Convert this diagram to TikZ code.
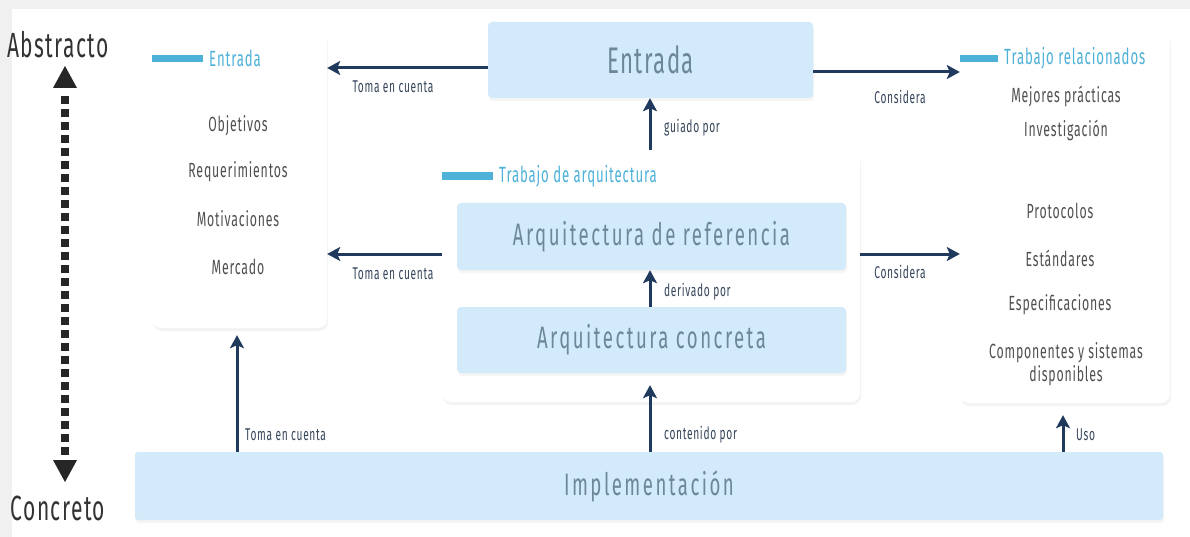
\documentclass[tikz,border=0pt]{standalone}
\usepackage{fontspec}
\setmainfont{Fira Sans}[FakeStretch=0.6,LetterSpace=4]
\newfontfamily\bigfont{Fira Sans}[FakeStretch=0.6,LetterSpace=8]
\usetikzlibrary{shadows,arrows.meta}
\definecolor{bg}{HTML}{F0F0F0}
\definecolor{boxfill}{HTML}{D2EAF9}
\definecolor{boxtext}{HTML}{6D8799}
\definecolor{navy}{HTML}{1F3A5C}
\definecolor{hdr}{HTML}{4DB1D8}
\definecolor{item}{HTML}{505050}
\definecolor{lbl}{HTML}{34455A}
\tikzset{
  panel/.style={draw=none,fill=white,rounded corners=9pt,
    drop shadow={opacity=0.09,shadow xshift=1pt,shadow yshift=-3pt}},
  bluebox/.style={draw=none,fill=boxfill,rounded corners=4pt,text=boxtext,
    drop shadow={opacity=0.08,shadow xshift=1pt,shadow yshift=-3pt}},
  bar/.style={fill=hdr,draw=none},
  hdrtext/.style={text=hdr,font=\fontsize{22}{24}\selectfont,anchor=west,inner sep=0},
  itemtext/.style={text=item,font=\fontsize{20.5}{23}\selectfont,align=center,inner sep=0},
  lbltext/.style={text=lbl,font=\fontsize{17}{19}\selectfont,inner sep=0},
  conn/.style={draw=navy,line width=3pt,-{Stealth[length=13pt,width=14pt,inset=3pt]}},
  sidetext/.style={text=black!80,font=\fontsize{35}{37}\selectfont,inner sep=0},
}
\begin{document}
\begin{tikzpicture}[x=1pt,y=-1pt]
\useasboundingbox (0,0) rectangle (1190,537);
\fill[bg] (0,0) rectangle (1190,537);
\fill[white] (12,9) rectangle (1190,537);

% side scale
\node[sidetext] (abs) at (58,45) {Abstracto};
\node[sidetext] (con) at (58,508) {Concreto};
\fill[black!85] (53,88) -- (77,88) -- (65,66) -- cycle;
\fill[black!85] (53,460) -- (77,460) -- (65,482) -- cycle;
\foreach \yy in {96,109,...,452} \fill[black!85] (61,\yy) rectangle (69,\yy+8);

% left panel
\node[panel,minimum width=175pt,minimum height=296pt] (left) at (239.5,180) {};
\fill[bar] (152,55) rectangle (203,62);
\node[hdrtext] (lefth) at (209,58) {Entrada};
\node[itemtext] (obj) at (238,126) {Objetivos};
\node[itemtext] (req) at (238,172) {Requerimientos};
\node[itemtext] (mot) at (238,219) {Motivaciones};
\node[itemtext] (mer) at (238,267) {Mercado};

% right panel
\node[panel,minimum width=210pt,minimum height=371pt] (right) at (1065,217.5) {};
\fill[bar] (960,55) rectangle (998,62);
\node[hdrtext] (righth) at (1004,58) {Trabajo relacionados};
\node[itemtext] (mej) at (1066,96) {Mejores prácticas};
\node[itemtext] (inv) at (1066,130) {Investigación};
\node[itemtext] (pro) at (1060,211) {Protocolos};
\node[itemtext] (est) at (1060,258) {Estándares};
\node[itemtext] (esp) at (1060,305) {Especificaciones};
\node[itemtext] (comp) at (1066,364) {Componentes y sistemas\\disponibles};

% top entrada box
\node[bluebox,minimum width=325pt,minimum height=76pt,font=\fontsize{37}{39}\selectfont] (entrada) at (650.5,60) {Entrada};

% middle panel
\node[panel,minimum width=418pt,minimum height=252pt] (mid) at (651,276) {};
\fill[bar] (442,172) rectangle (493,180);
\node[hdrtext] (midh) at (499,176) {Trabajo de arquitectura};
\node[bluebox,minimum width=389pt,minimum height=67pt,font=\bigfont\fontsize{31}{33}\selectfont] (ref) at (651.5,236.5) {Arquitectura de referencia};
\node[bluebox,minimum width=389pt,minimum height=66pt,font=\bigfont\fontsize{31}{33}\selectfont] (conc) at (651.5,340) {Arquitectura concreta};

% implementation
\node[bluebox,rounded corners=3pt,minimum width=1028pt,minimum height=68pt,font=\bigfont\fontsize{31}{33}\selectfont] (impl) at (649,486) {Implementación};

% connectors
\draw[conn] (entrada.west |- 0,68) -- (left.east |- 0,68);
\node[lbltext] (l1) at (393,87) {Toma en cuenta};
\draw[conn] (entrada.east |- 0,72) -- (right.west |- 0,72);
\node[lbltext] (l2) at (900,97) {Considera};
\draw[conn] (mid.north -| 650,0) -- (entrada.south -| 650,0);
\node[lbltext,anchor=west] (l3) at (664,128) {guiado por};
\draw[conn] (conc.north -| 650,0) -- (ref.south -| 650,0);
\node[lbltext,anchor=west] (l4) at (664,292) {derivado por};
\draw[conn] (mid.west |- 0,254) -- (left.east |- 0,254);
\node[lbltext] (l5) at (393,274) {Toma en cuenta};
\draw[conn] (mid.east |- 0,254) -- (right.west |- 0,254);
\node[lbltext] (l6) at (900,272) {Considera};
\draw[conn] (impl.north -| 237,0) -- ([yshift=-7pt]left.south -| 237,0);
\node[lbltext,anchor=west] (l7) at (245,435) {Toma en cuenta};
\draw[conn,shorten >=12pt] (impl.north -| 650,0) -- (conc.south -| 650,0);
\node[lbltext,anchor=west] (l8) at (664,435) {contenido por};
\draw[conn] (impl.north -| 1063,0) -- ([yshift=-12pt]right.south -| 1063,0);
\node[lbltext,anchor=west] (l9) at (1076,435) {Uso};
\end{tikzpicture}
\end{document}
